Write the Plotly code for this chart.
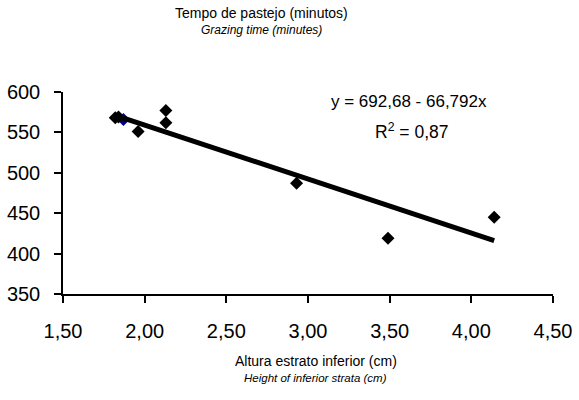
import plotly.graph_objects as go

x_vals = [1.82, 1.84, 1.96, 2.13, 2.13, 2.93, 3.49, 4.14]
y_vals = [568, 569, 551, 577, 562, 487, 419, 445]
x_blue = [1.87]
y_blue = [566]
intercept = 692.68
slope = -66.792
r2_text = "0,87"
x_ticks = [1.5, 2.0, 2.5, 3.0, 3.5, 4.0, 4.5]
y_ticks = [350, 400, 450, 500, 550, 600]

xmin = min(x_vals + x_blue)
xmax = max(x_vals + x_blue)
line_x = [xmin, xmax]
line_y = [intercept + slope * v for v in line_x]

fig = go.Figure()
fig.add_trace(go.Scatter(x=x_blue, y=y_blue, mode="markers",
                         marker=dict(symbol="diamond", size=10, color="#000080")))
fig.add_trace(go.Scatter(x=line_x, y=line_y, mode="lines",
                         line=dict(color="black", width=5)))
fig.add_trace(go.Scatter(x=x_vals, y=y_vals, mode="markers",
                         marker=dict(symbol="diamond", size=10, color="black")))

font = "Liberation Sans, Arial, sans-serif"
plot_left, plot_right = 63, 553
plot_top, plot_bottom = 92, 294
plot_w = plot_right - plot_left
plot_h = plot_bottom - plot_top


def paper_x(px):
    return (px - plot_left) / plot_w


def paper_y(py):
    return (plot_bottom - py) / plot_h


fig.update_layout(
    width=579, height=400,
    margin=dict(l=plot_left, r=579 - plot_right, t=plot_top, b=400 - plot_bottom,
                autoexpand=False),
    paper_bgcolor="white", plot_bgcolor="white",
    showlegend=False,
    separators=",.",
    font=dict(family=font, color="black", size=20),
    xaxis=dict(range=[1.5, 4.5], tickvals=x_ticks, tickformat=".2f", automargin=False,
               showgrid=False, zeroline=False, showline=True, linecolor="black",
               linewidth=1.5, ticks="outside", ticklen=7, tickcolor="black",
               tickwidth=1.5, tickfont=dict(size=20), ticklabelstandoff=11),
    yaxis=dict(range=[350, 600], tickvals=y_ticks, showgrid=False, zeroline=False,
               automargin=False,
               showline=True, linecolor="black", linewidth=1.5, ticks="outside",
               ticklen=7, tickcolor="black", tickwidth=1.5, tickfont=dict(size=20),
               ticklabelstandoff=10),
)

texts = [
    ("Tempo de pastejo (minutos)", 261, 13, 14),
    ("<i>Grazing time (minutes)</i>", 261, 30, 12),
    ("Altura estrato inferior (cm)", 316, 361, 14),
    ("<i>Height of inferior strata (cm)</i>", 315, 378, 11.5),
    ("y = 692,68 - 66,792x", 409, 101, 17),
    ("R<sup>2</sup> = " + r2_text, 411, 131, 17.5),
]
ann_list = []
for t, px, py, sz in texts:
    ann_list.append(dict(text=t, xref="paper", yref="paper", x=paper_x(px), y=paper_y(py),
                         xanchor="center", yanchor="middle", showarrow=False,
                         font=dict(size=sz, family=font, color="black")))
fig.update_layout(annotations=ann_list)

fig.write_html("out.html", config={"displayModeBar": False},
               post_script="document.body.style.margin='0';")
